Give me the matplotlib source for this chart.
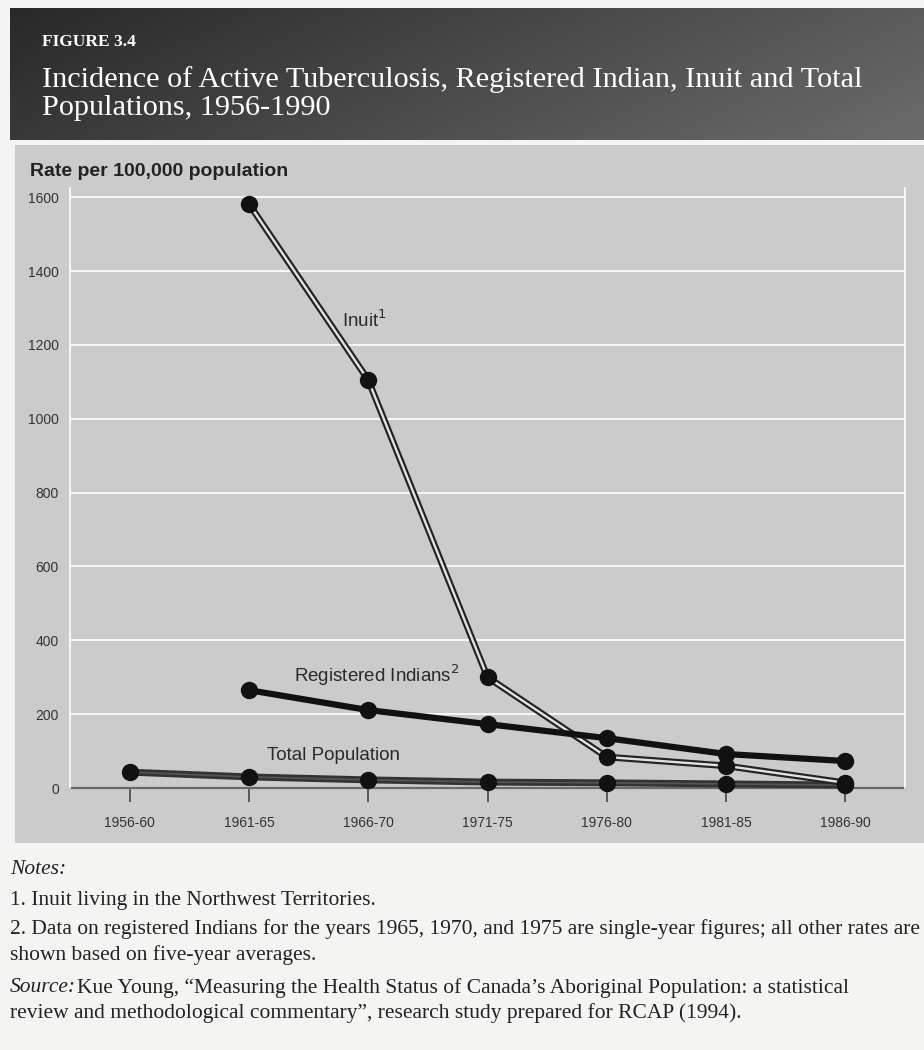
import numpy as np
import matplotlib
matplotlib.use("Agg")
import matplotlib.pyplot as plt
from matplotlib.patches import Rectangle

periods = ["1956-60", "1961-65", "1966-70", "1971-75", "1976-80", "1981-85", "1986-90"]
inuit = [None, 1582, 1105, 300, 84, 60, 14]
reg_indians = [None, 265, 211, 173, 135, 92, 73]
total_pop = [43, 30, 22, 16, 14, 11, 8]
yticks = [0, 200, 400, 600, 800, 1000, 1200, 1400, 1600]

W, H = 924, 1050
fig = plt.figure(figsize=(W / 100, H / 100), dpi=100)
fig.patch.set_facecolor("#f4f4f2")

def fx(px):
    return px / W

def fy(py):
    return 1 - py / H

# grey panel behind the chart
fig.add_artist(Rectangle((fx(15), fy(843)), fx(924 - 15), (843 - 145) / H,
                         transform=fig.transFigure, facecolor="#cbcbcb",
                         edgecolor="none", zorder=0))

# title band with gradient
tax = fig.add_axes([fx(10), fy(140), fx(924 - 10), (140 - 8) / H])
gx = np.linspace(0, 1, 300)
gy = np.linspace(0, 1, 60)
grad = 0.16 + 0.20 * gx[None, :] + 0.06 * gy[:, None]
tax.imshow(grad, cmap="gray", vmin=0, vmax=1, aspect="auto", extent=[0, 1, 0, 1])
tax.set_axis_off()
tax.text(0.035, 0.74, "FIGURE 3.4", color="white", fontsize=12.5, fontweight="bold",
         family="Liberation Serif", transform=tax.transAxes, va="center")
tax.text(0.035, 0.455, "Incidence of Active Tuberculosis, Registered Indian, Inuit and Total",
         color="white", fontsize=21.8, family="Liberation Serif",
         transform=tax.transAxes, va="center")
tax.text(0.035, 0.24, "Populations, 1956-1990", color="white", fontsize=21.8,
         family="Liberation Serif", transform=tax.transAxes, va="center")

# chart axes
ax = fig.add_axes([fx(70), fy(788), fx(905 - 70), (788 - 188) / H])
ax.set_facecolor("none")
x = np.arange(len(periods))
ax.set_xlim(-0.5, 6.5)
ax.set_ylim(0, 1625)

for t in yticks[1:]:
    ax.axhline(t, color="white", lw=1.2, zorder=1)

ax.spines["top"].set_visible(False)
ax.spines["left"].set_color("white")
ax.spines["right"].set_color("white")
ax.spines["left"].set_linewidth(1.2)
ax.spines["right"].set_linewidth(1.2)
ax.spines["bottom"].set_color("#6a6a6a")
ax.spines["bottom"].set_linewidth(1.6)
ax.spines["bottom"].set_zorder(2)

ax.set_yticks(yticks)
ax.set_yticklabels([str(t) for t in yticks], fontsize=10, color="#333333",
                   family="Liberation Sans")
ax.tick_params(axis="y", length=0, pad=8)
ax.set_xticks(x)
ax.set_xticklabels(periods, fontsize=10, color="#333333", family="Liberation Sans")
ax.tick_params(axis="x", length=10, width=1.2, color="#444444", pad=10, direction="out")

# total population
ax.plot(x, total_pop, color="#333333", lw=5, zorder=3, clip_on=False,
        solid_capstyle="butt")
ax.plot(x, total_pop, color="#555555", lw=1.2, zorder=3.1, clip_on=False)
ax.plot(x, total_pop, "o", color="#111111", ms=11.5, zorder=6, clip_on=False)

# inuit (double line)
xi = x[1:]
inu = inuit[1:]
ax.plot(xi, inu, color="#222222", lw=4.8, zorder=4, clip_on=False)
ax.plot(xi, inu, color="#e2e2e2", lw=1.7, zorder=4.1, clip_on=False)
ax.plot(xi, inu, "o", color="#111111", ms=11.5, zorder=6, clip_on=False)

# registered indians
ri = reg_indians[1:]
ax.plot(xi, ri, color="#111111", lw=4.5, zorder=5, clip_on=False)
ax.plot(xi, ri, "o", color="#111111", ms=11.5, zorder=6, clip_on=False)

lab = dict(fontsize=13.5, color="#2a2a2a", family="Liberation Sans")
ax.text(1.78, 1268, "Inuit$^{1}$", ha="left", va="center", **lab)
ax.text(1.38, 306, "Registered Indians$^{2}$", ha="left", va="center", **lab)
ax.text(1.15, 89, "Total Population", ha="left", va="center", **lab)

fig.text(fx(30), fy(172), "Rate per 100,000 population", fontsize=14,
         fontweight="bold", color="#222222", family="Liberation Sans", va="center")

# notes
serif = dict(family="Liberation Serif", color="#222222", fontsize=15.5, va="center")
fig.text(fx(10), fy(870), "Notes:", style="italic", **serif)
fig.text(fx(10), fy(900), "1. Inuit living in the Northwest Territories.", **serif)
fig.text(fx(10), fy(929), "2. Data on registered Indians for the years 1965, 1970, and 1975 "
         "are single-year figures; all other rates are", **serif)
fig.text(fx(10), fy(955), "shown based on five-year averages.", **serif)
fig.text(fx(10), fy(988), "Source:", style="italic", **serif)
fig.text(fx(77), fy(988), "Kue Young, \u201cMeasuring the Health Status of Canada\u2019s "
         "Aboriginal Population: a statistical", **serif)
fig.text(fx(10), fy(1013), "review and methodological commentary\u201d, research study "
         "prepared for RCAP (1994).", **serif)

fig.savefig("out.png", dpi=100, facecolor=fig.get_facecolor())
